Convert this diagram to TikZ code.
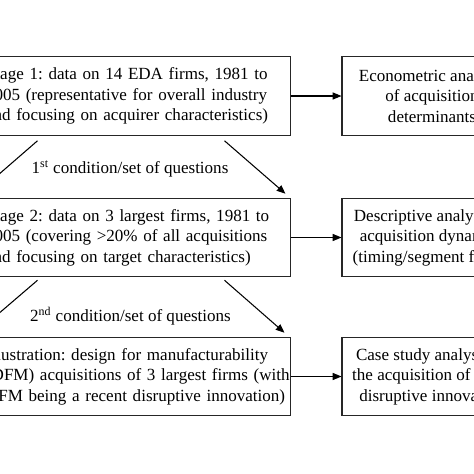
\documentclass[tikz,border=0pt]{standalone}
\usepackage{fontspec}
\setmainfont{Liberation Serif}
\usetikzlibrary{arrows.meta}
\begin{document}
\begin{tikzpicture}[
	x=0.02cm, y=-0.02cm,
	box/.style={ draw=black!85, line width=0.6pt, rectangle, inner ysep=0pt, minimum height=1.57cm, font=\fontsize{9.7}{11.6}\selectfont, execute at begin node=\frenchspacing },
	stagebox/.style={ box, align=left, text width=6.06cm, inner xsep=0.04cm },
	resultbox/.style={ box, align=center, minimum width=3.6cm },
	link/.style={ line width=0.6pt, -{Triangle[length=5pt,width=4pt]} },
	lbl/.style={ font=\fontsize{9.7}{11.6}\selectfont, inner sep=0pt }
]
\useasboundingbox (0,0) rectangle (474,474);
\fill[white] (0,0) rectangle (474,474);
\clip (0,0) rectangle (474,474);

\node[stagebox] at (137.5,96) (s1) {\mbox{Stage 1: data on 14 EDA firms, 1981 to}\\\mbox{2005 (representative for overall industry}\\\mbox{and focusing on acquirer characteristics)}};
\node[stagebox] at (137.5,237.5) (s2) {\mbox{Stage 2: data on 3 largest firms, 1981 to}\\\mbox{2005 (covering >20\% of all acquisitions}\\\mbox{and focusing on target characteristics)}};
\node[stagebox] at (137.5,376.5) (s3) {\mbox{Illustration: design for manufacturability}\\\mbox{(DFM) acquisitions of 3 largest firms (with}\\\mbox{DFM being a recent disruptive innovation)}};

\node[resultbox] at (432,96) (a1) {Econometric analysis\\of acquisition\\determinants};
\node[resultbox] at (432,237.5) (a2) {Descriptive analysis of\\acquisition dynamics\\(timing/segment focus)};
\node[resultbox] at (432,376.5) (a3) {Case study analysis of\\the acquisition of DFM\\disruptive innovation};

\draw[link] (s1) -- (a1);
\draw[link] (s2) -- (a2);
\draw[link] (s3) -- (a3);

\draw[link] ([shift={(-67,5)}]s1.south east) -- ([shift={(-6,-4)}]s2.north east);
\draw[link] ([shift={(-67,3)}]s2.south east) -- ([shift={(-7,-4)}]s3.north east);

% branches leaving the picture on the left
\coordinate (out1) at (-10,182);
\coordinate (out2) at (-10,321);
\draw[line width=0.6pt] ([shift={(54,5)}]s1.south west) -- (out1);
\draw[line width=0.6pt] ([shift={(54,3)}]s2.south west) -- (out2);

\node[lbl] at (130,169) (q1) {1\textsuperscript{st} condition/set of questions};
\node[lbl] at (130.5,316) (q2) {2\textsuperscript{nd} condition/set of questions};

\end{tikzpicture}
\end{document}
